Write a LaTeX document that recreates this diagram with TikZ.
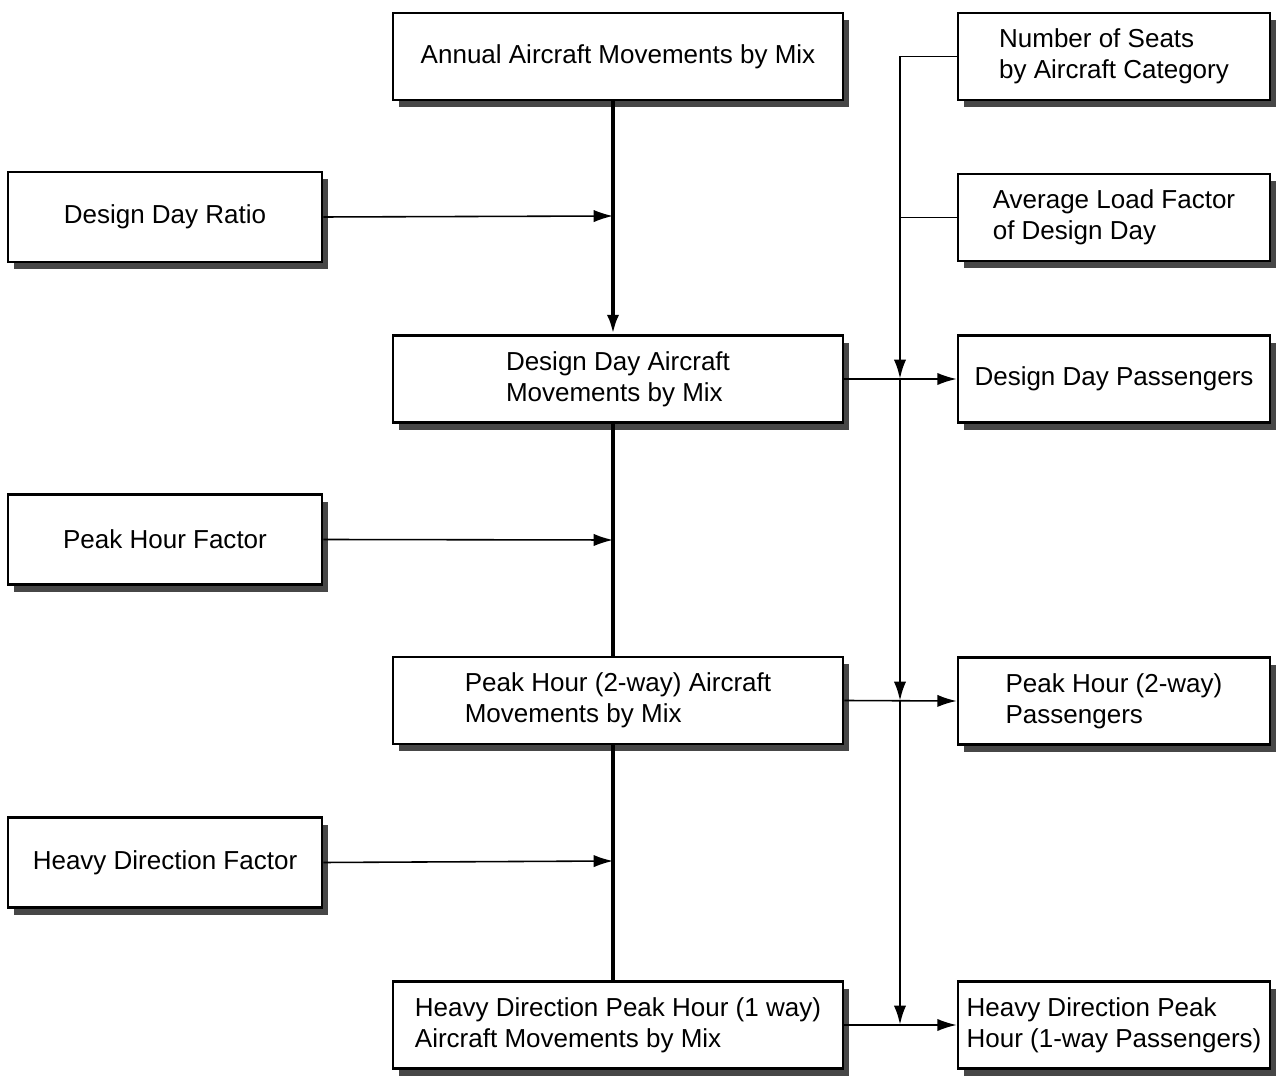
\documentclass[tikz,border=0pt]{standalone}
\usepackage{fontspec}
\setmainfont{Liberation Sans}
\usetikzlibrary{arrows.meta,shadows}
\begin{document}
\begin{tikzpicture}[x=0.02cm,y=-0.02cm,
  box/.style={draw=black, line width=1.6pt, fill=white, align=left, inner sep=0pt,
    font=\fontsize{14.8}{17.5}\selectfont,
    drop shadow={shadow xshift=3.6pt, shadow yshift=-4pt, fill=black!72, opacity=1}},
  midbox/.style={box, minimum width=9cm, minimum height=1.74cm},
  leftbox/.style={box, minimum width=6.28cm, minimum height=1.8cm},
  rightbox/.style={box, minimum width=6.24cm, minimum height=1.74cm},
  mainline/.style={line width=2.2pt},
  thinline/.style={line width=0.9pt},
  arr/.style={-{Latex[length=11pt,width=7pt]}}
]
\useasboundingbox (0,0) rectangle (1276,1077);

% middle column
\node[midbox] (annual) at (618,56.5) {Annual Aircraft Movements by Mix};
\node[midbox] (dda) at (618,379) {Design Day Aircraft\\Movements by Mix};
\node[midbox] (pha) at (618,700.5) {Peak Hour (2-way) Aircraft\\Movements by Mix};
\node[midbox] (hda) at (618,1025) {Heavy Direction Peak Hour (1 way)\\Aircraft Movements by Mix};

% left column
\node[leftbox] (ddr) at (165,217) {Design Day Ratio};
\node[leftbox] (phf) at (165,539.5) {Peak Hour Factor};
\node[leftbox] (hdf) at (165,862.5) {Heavy Direction Factor};

% right column
\node[rightbox] (ns) at (1114,56.5) {Number of Seats\\by Aircraft Category};
\node[rightbox] (alf) at (1114,217.5) {Average Load Factor\\of Design Day};
\node[rightbox] (ddp) at (1114,379) {Design Day Passengers};
\node[rightbox] (php) at (1114,701) {Peak Hour (2-way)\\Passengers};
\node[rightbox] (hdp) at (1114,1025) {Heavy Direction Peak\\Hour (1-way Passengers)};

% junction coordinates
\coordinate (j1) at (613,216);
\coordinate (j2) at (613,540);
\coordinate (j3) at (613,861);
\coordinate (b0) at (900,56.5);
\coordinate (ba) at (900,217.5);
\coordinate (b1) at (900,379);
\coordinate (b2) at (900,701);
\coordinate (b3) at (900,1025);

% main vertical chain
\draw[mainline, arr] (annual.south -| j1) -- (dda.north -| j1);
\draw[mainline] (dda.south -| j1) -- (pha.north -| j1);
\draw[mainline] (pha.south -| j1) -- (hda.north -| j1);

% left inputs
\draw[thinline, arr] (ddr.east) -- (j1);
\draw[thinline, arr] (phf.east) -- (j2);
\draw[thinline, arr] (hdf.east) -- (j3);

% right bus
\draw[thinline] (ns.west) -- (b0);
\draw[thinline] (alf.west) -- (ba);
\draw[line width=1.5pt, arr] (b0) -- (b1);
\draw[line width=1.5pt, arr] (b1) -- (b2);
\draw[line width=1.5pt, arr] (b2) -- (b3);

% outputs
\draw[thinline, arr] (dda.east) -- (ddp.west);
\draw[thinline, arr] (pha.east) -- (php.west);
\draw[thinline, arr] (hda.east) -- (hdp.west);
\end{tikzpicture}
\end{document}
